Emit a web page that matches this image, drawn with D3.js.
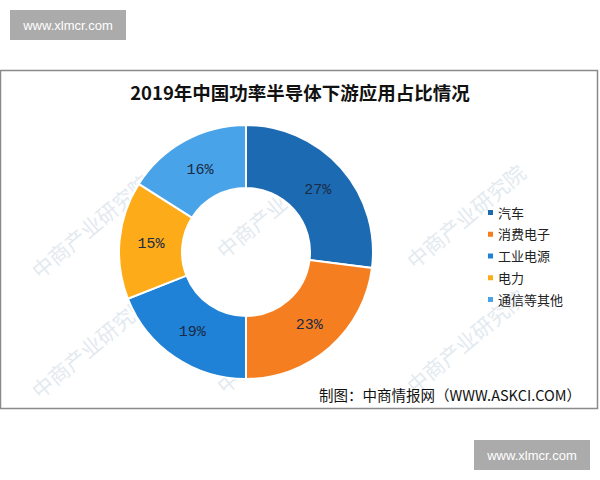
<!DOCTYPE html>
<html><head><meta charset="utf-8">
<script src="https://cdn.jsdelivr.net/npm/d3@7"></script>
<style>body{margin:0;background:#fff}svg{display:block}</style>
</head><body>
<svg id="c" width="600" height="480"></svg>
<script>
const categories = ["汽车", "消费电子", "工业电源", "电力", "通信等其他"];
const values = [27, 23, 19, 15, 16];
const colors = ["#1c6bb2", "#f57f20", "#1f82d6", "#fdab19", "#48a3e8"];
const titleText = "2019年中国功率半导体下游应用占比情况";
const sourceText = "制图：中商情报网（WWW.ASKCI.COM）";

const svg = d3.select("#c");
const cjk = "'Noto Sans CJK SC', 'Noto Sans', sans-serif";

// frame
svg.append("rect").attr("x", 0.5).attr("y", 70.5).attr("width", 597).attr("height", 338)
  .attr("fill", "#fff").attr("stroke", "#8a8a8a").attr("stroke-width", 1.5);

// faint watermarks
const wm = svg.append("g").attr("fill", "#e3eaef").attr("font-family", cjk).attr("font-size", 21);
[[40,280],[40,400],[225,260],[225,395],[415,270],[415,395]].forEach(([x,y])=>{
  wm.append("text").attr("x", x).attr("y", y).attr("transform", `rotate(-40,${x},${y})`).text("中商产业研究院");
});

// title
svg.append("text").attr("x", 300).attr("y", 100).attr("text-anchor", "middle")
  .attr("font-family", cjk).attr("font-weight", "bold").attr("font-size", 18.5).attr("fill", "#111")
  .text(titleText);

// donut
const cx = 246, cy = 252, rOuter = 127, rInner = 64;
const pie = d3.pie().value(d => d).sort(null);
const arcs = pie(values);
const arc = d3.arc().innerRadius(rInner).outerRadius(rOuter);
const g = svg.append("g").attr("transform", `translate(${cx},${cy})`);
g.selectAll("path").data(arcs).join("path")
  .attr("d", arc).attr("fill", (d, i) => colors[i])
  .attr("stroke", "#fff").attr("stroke-width", 2);
g.selectAll("text").data(arcs).join("text")
  .attr("transform", d => `translate(${arc.centroid(d)})`)
  .attr("text-anchor", "middle").attr("dy", "0.35em")
  .attr("font-family", "'Liberation Mono', 'DejaVu Sans Mono', monospace").attr("font-size", 15)
  .attr("fill", "#1b2a45")
  .text(d => d.data + "%");

// legend
const ly = d3.scalePoint().domain(categories).range([213, 300]);
const lg = svg.append("g");
categories.forEach((c, i) => {
  lg.append("rect").attr("x", 488).attr("y", ly(c) - 3).attr("width", 5).attr("height", 5).attr("fill", colors[i]);
  lg.append("text").attr("x", 498).attr("y", ly(c)).attr("dy", "0.35em")
    .attr("font-family", cjk).attr("font-size", 13).attr("fill", "#222").text(c);
});

// source
svg.append("text").attr("x", 581).attr("y", 396).attr("dy", "0.35em").attr("text-anchor", "end")
  .attr("font-family", cjk).attr("font-size", 14.5).attr("fill", "#111").text(sourceText);

// site badges
[[10,10],[474,440]].forEach(([x,y])=>{
  svg.append("rect").attr("x", x).attr("y", y).attr("width", 116).attr("height", 30).attr("fill", "#ababab");
  svg.append("text").attr("x", x + 58).attr("y", y + 15).attr("dy", "0.35em").attr("text-anchor", "middle")
    .attr("font-family", "'Liberation Sans', Arial, sans-serif").attr("font-size", 13).attr("fill", "#fff")
    .text("www.xlmcr.com");
});
</script>
</body></html>
